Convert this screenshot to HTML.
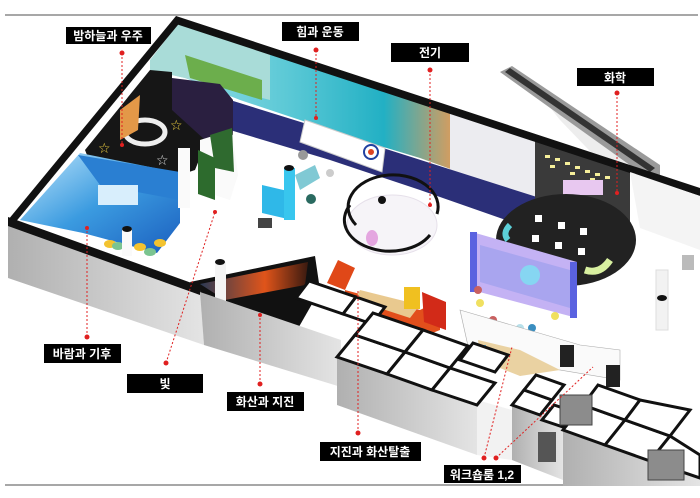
<!DOCTYPE html>
<html><head><meta charset="utf-8">
<style>
html,body{margin:0;padding:0;background:#fff;}
svg{display:block;}
.lb{font-family:"Liberation Sans","Noto Sans CJK KR",sans-serif;font-size:12px;font-weight:bold;fill:#fff;}
</style></head>
<body>
<svg width="700" height="498" viewBox="0 0 700 498" xmlns="http://www.w3.org/2000/svg">
<defs>
<linearGradient id="gw" x1="0" y1="0" x2="1" y2="0"><stop offset="0" stop-color="#b0b0b0"/><stop offset="1" stop-color="#e4e4e4"/></linearGradient>
<linearGradient id="mur" x1="0" y1="0" x2="1" y2="0"><stop offset="0" stop-color="#9fe0e8"/><stop offset="0.35" stop-color="#5cc9d6"/><stop offset="0.6" stop-color="#22b0c4"/><stop offset="0.8" stop-color="#f09a50"/><stop offset="1" stop-color="#e7e7ef"/></linearGradient>
<linearGradient id="blu" x1="0" y1="0" x2="1" y2="1"><stop offset="0" stop-color="#bfe6fb"/><stop offset="0.5" stop-color="#3b9be0"/><stop offset="1" stop-color="#1b5fbf"/></linearGradient>
<linearGradient id="vol" x1="0" y1="0" x2="1" y2="0"><stop offset="0" stop-color="#2a3a55"/><stop offset="0.6" stop-color="#e0541a"/><stop offset="1" stop-color="#3a1a10"/></linearGradient>
</defs>
<rect width="700" height="498" fill="#fff"/>
<line x1="5" y1="15" x2="698" y2="15" stroke="#8a8a8a" stroke-width="1.5"/>
<line x1="5" y1="485" x2="698" y2="485" stroke="#8a8a8a" stroke-width="1.5"/>

<!-- escalator -->
<polygon points="530,82 600,130 640,168 610,172 560,120" fill="#ededed"/>
<polygon points="500,72 512,66 660,165 660,178 645,176" fill="#9a9a9a"/>
<polygon points="505,72 510,68 655,168 650,172" fill="#333"/>

<!-- mural back wall -->
<polygon points="178,22 480,118 540,138 540,200 470,176 420,158 360,140 300,120 240,100 185,78 150,70" fill="url(#mur)"/>
<polygon points="150,60 178,24 270,53 270,100 185,78 150,70" fill="#a9dcd8"/>
<polygon points="185,55 262,80 262,100 190,78" fill="#6cae4c"/>
<polygon points="450,110 540,140 540,205 450,180" fill="#ececf0"/>
<polygon points="230,100 320,128 540,198 540,218 520,225 420,190 330,160 230,130" fill="#2b2f78"/>
<polygon points="305,120 385,148 382,172 300,142" fill="#fff" stroke="#ccc"/>
<circle cx="371" cy="152" r="7" fill="#fff" stroke="#2140a0" stroke-width="2"/><circle cx="371" cy="152" r="3" fill="#d42"/>
<polygon points="535,138 630,170 630,235 535,210" fill="#3a3a3a"/>
<g fill="#f5ef9a"><rect x="545" y="155" width="5" height="3"/><rect x="555" y="158" width="5" height="3"/><rect x="565" y="162" width="5" height="3"/><rect x="575" y="166" width="5" height="3"/><rect x="585" y="170" width="5" height="3"/><rect x="595" y="173" width="5" height="3"/><rect x="605" y="176" width="5" height="3"/><rect x="550" y="165" width="5" height="3"/><rect x="570" y="172" width="5" height="3"/><rect x="590" y="178" width="5" height="3"/></g>
<rect x="563" y="180" width="40" height="15" fill="#e8c8f0"/>
<ellipse cx="566" cy="240" rx="70" ry="46" fill="#222"/>
<g fill="#fff"><rect x="535" y="215" width="7" height="7"/><rect x="558" y="222" width="7" height="7"/><rect x="580" y="228" width="7" height="7"/><rect x="532" y="235" width="7" height="7"/><rect x="555" y="242" width="7" height="7"/><rect x="578" y="248" width="7" height="7"/></g>
<path d="M585 270 q15 5 25 -10" stroke="#d8f0a0" stroke-width="7" fill="none"/>
<path d="M510 225 q-8 8 -2 15" stroke="#5cd0d8" stroke-width="6" fill="none"/>
<polygon points="176,16 700,188 700,196 176,24" fill="#111"/>
<polygon points="630,172 700,196 700,250 640,228" fill="#f4f4f4"/>
<rect x="656" y="270" width="12" height="60" fill="#f2f2f2" stroke="#ddd"/><ellipse cx="662" cy="298" rx="5" ry="3" fill="#111"/>
<rect x="682" y="255" width="12" height="15" fill="#bbb"/>

<polygon points="176,16 182,20 14,224 8,220" fill="#111"/>

<polygon points="85,150 150,70 172,72 172,95 233,100 233,135 205,145 195,170 180,175 87,155" fill="#161616"/>
<polygon points="172,78 220,84 233,100 233,132 205,140 172,110" fill="#2a1f40"/>
<ellipse cx="145" cy="132" rx="20" ry="12" fill="none" stroke="#eee" stroke-width="5"/>
<polygon points="120,110 140,95 138,130 120,140" fill="#e39848"/>
<text x="98" y="153" font-size="14" fill="#f0d040" font-family="DejaVu Sans">☆</text>
<text x="170" y="130" font-size="14" fill="#f0d040" font-family="DejaVu Sans">☆</text>
<text x="156" y="165" font-size="14" fill="#ddd" font-family="DejaVu Sans">☆</text>

<polygon points="20,220 80,153 180,173 180,223 157,253 83,233" fill="url(#blu)"/>
<polygon points="78,155 180,172 180,200 100,185" fill="#2a7fd2"/>
<rect x="98" y="185" width="40" height="20" fill="#d8eefc"/>
<g fill="#f3c330"><ellipse cx="110" cy="244" rx="6" ry="4"/><ellipse cx="140" cy="247" rx="6" ry="4"/><ellipse cx="160" cy="243" rx="6" ry="4"/></g>
<g fill="#7bc490"><ellipse cx="118" cy="246" rx="6" ry="4"/><ellipse cx="150" cy="252" rx="6" ry="4"/></g>
<rect x="122" y="228" width="10" height="28" fill="#fafafa"/><ellipse cx="127" cy="229" rx="5" ry="3" fill="#111"/>

<polygon points="200,140 232,130 238,175 230,200 200,190" fill="#fafafa"/>
<polygon points="210,135 232,128 234,172 215,168" fill="#2f6a2f"/>
<polygon points="198,150 215,158 215,200 198,194" fill="#2d6b2d"/>
<rect x="178" y="148" width="12" height="60" fill="#fafafa"/>
<polygon points="262,185 292,192 292,220 262,213" fill="#2fb8e8"/>
<rect x="284" y="168" width="11" height="52" fill="#38c6ee"/><ellipse cx="289" cy="168" rx="5" ry="3" fill="#111"/>
<polygon points="295,175 315,165 320,178 300,190" fill="#80c9d4"/>
<circle cx="303" cy="155" r="5" fill="#999"/><circle cx="311" cy="199" r="5" fill="#2a6a60"/><circle cx="330" cy="173" r="4" fill="#ccc"/>
<rect x="258" y="218" width="14" height="10" fill="#444"/>

<ellipse cx="392" cy="225" rx="45" ry="30" fill="#f6f4f8" stroke="#e6e0ea"/>
<path d="M356 225 A45 32 0 1 1 437 214" fill="none" stroke="#111" stroke-width="3"/>
<path d="M350 205 A44 30 0 0 0 430 235" fill="none" stroke="#111" stroke-width="3"/>
<circle cx="382" cy="200" r="4" fill="#111"/>
<ellipse cx="372" cy="238" rx="6" ry="8" fill="#e4a6e0"/>

<polygon points="472,232 577,262 577,318 472,290" fill="#c4b2f4"/>
<polygon points="480,245 570,270 570,308 480,282" fill="#a9a5ef"/>
<circle cx="530" cy="275" r="10" fill="#86d6f2"/>
<rect x="470" y="232" width="7" height="60" fill="#5a62e0"/>
<rect x="570" y="262" width="7" height="56" fill="#5a62e0"/>
<circle cx="478" cy="290" r="4" fill="#c96060"/><circle cx="480" cy="303" r="4" fill="#f0e060"/>
<circle cx="493" cy="320" r="4" fill="#c96060"/><circle cx="520" cy="328" r="4" fill="#b8e0ea"/><circle cx="532" cy="328" r="4" fill="#3a8ec0"/><circle cx="555" cy="316" r="4" fill="#f0e060"/>

<polygon points="460,310 580,345 620,350 620,380 470,355" fill="#fafafa" stroke="#aaa" stroke-width="0.6"/>
<polygon points="478,340 520,350 560,370 520,376 480,360" fill="#ead2a2"/>
<rect x="476" y="345" width="10" height="6" fill="#4aa6d8"/>
<rect x="560" y="345" width="14" height="22" fill="#222"/><rect x="606" y="365" width="14" height="22" fill="#222"/>

<polygon points="190,282 315,256 320,290 296,332 210,302" fill="#111"/>
<polygon points="200,284 308,262 305,285 225,300" fill="url(#vol)"/>
<rect x="215" y="262" width="11" height="40" fill="#f4f4f4"/><ellipse cx="220" cy="262" rx="5" ry="3" fill="#111"/>

<polygon points="327,283 338,260 355,268 345,290" fill="#e04818"/>
<polygon points="345,290 420,310 440,300 440,330 420,338 345,300" fill="#e24f1c"/>
<polygon points="360,290 420,305 410,318 355,300" fill="#e9c98f"/>
<rect x="404" y="287" width="16" height="22" fill="#f0c020"/>
<polygon points="422,292 446,302 446,330 424,322" fill="#d22a18"/>

<polygon points="8,220 200,290 204,345 8,278" fill="url(#gw)"/>
<polygon points="8,217 200,286 200,295 8,226" fill="#111"/>
<polygon points="200,292 341,340 341,387 204,345" fill="url(#gw)"/>
<polygon points="337,357 477,405 477,455 337,405" fill="url(#gw)"/>
<polygon points="477,400 512,410 512,460 477,455" fill="#f2f2f2"/>
<polygon points="512,405 563,423 563,480 512,460" fill="url(#gw)"/>
<polygon points="563,430 700,478 700,486 563,486" fill="url(#gw)"/>
<rect x="538" y="432" width="18" height="30" fill="#555"/>

<g fill="#fff" stroke="#111" stroke-width="3" stroke-linejoin="miter">
<polygon points="296,298 343,314 356,297 309,281"/>
<polygon points="343,314 372,324 385,307 356,297"/>
<polygon points="337,357 387,374 405,352 355,335"/>
<polygon points="387,374 432,390 450,368 405,352"/>
<polygon points="432,390 477,405 495,383 450,368"/>
<polygon points="355,335 405,352 423,330 373,313"/>
<polygon points="405,352 450,368 468,346 423,330"/>
<polygon points="460,360 495,372 508,355 473,343"/>
<polygon points="512,405 540,415 552,400 524,390"/>
<polygon points="524,390 552,400 564,385 536,375"/>
<polygon points="542,420 563,427 575,412 554,405"/>
<polygon points="563,430 605,445 625,420 583,405"/>
<polygon points="605,445 650,461 670,436 625,420"/>
<polygon points="650,461 700,478 700,455 670,436"/>
<polygon points="583,405 625,420 640,400 598,385"/>
<polygon points="625,420 670,436 690,410 640,400"/>
</g>
<rect x="560" y="395" width="32" height="30" fill="#8c8c8c" stroke="#444"/>
<rect x="648" y="450" width="36" height="30" fill="#8c8c8c" stroke="#444"/>

<g stroke="#e02020" stroke-width="1" stroke-dasharray="2,2" fill="none">
<line x1="122" y1="53" x2="122" y2="145"/>
<line x1="316" y1="50" x2="316" y2="118"/>
<line x1="430" y1="70" x2="430" y2="205"/>
<line x1="617" y1="93" x2="617" y2="193"/>
<line x1="87" y1="337" x2="87" y2="228"/>
<line x1="166" y1="363" x2="215" y2="212"/>
<line x1="260" y1="384" x2="260" y2="315"/>
<line x1="358" y1="433" x2="358" y2="290"/>
<line x1="484" y1="458" x2="512" y2="347"/>
<line x1="496" y1="458" x2="593" y2="367"/>
</g>
<g fill="#e02020">
<circle cx="122" cy="53" r="2.5"/><circle cx="122" cy="145" r="2"/>
<circle cx="316" cy="50" r="2.5"/><circle cx="316" cy="118" r="2"/>
<circle cx="430" cy="70" r="2.5"/><circle cx="430" cy="205" r="2"/>
<circle cx="617" cy="93" r="2.5"/><circle cx="617" cy="193" r="2"/>
<circle cx="87" cy="337" r="2.5"/><circle cx="87" cy="228" r="2"/>
<circle cx="166" cy="363" r="2.5"/><circle cx="215" cy="212" r="2"/>
<circle cx="260" cy="384" r="2.5"/><circle cx="260" cy="315" r="2"/>
<circle cx="358" cy="433" r="2.5"/>
<circle cx="484" cy="458" r="2.5"/><circle cx="496" cy="458" r="2.5"/>
</g>

<g fill="#000">
<rect x="66" y="27" width="85" height="17"/>
<rect x="282" y="22" width="77" height="19"/>
<rect x="391" y="43" width="78" height="19"/>
<rect x="577" y="68" width="77" height="18"/>
<rect x="44" y="344" width="77" height="19"/>
<rect x="127" y="374" width="76" height="19"/>
<rect x="227" y="392" width="77" height="19"/>
<rect x="320" y="442" width="101" height="19"/>
<rect x="444" y="465" width="77" height="18"/>
</g>
<g class="lb" text-anchor="middle">
<text x="108" y="40">밤하늘과 우주</text>
<text x="320" y="36">힘과 운동</text>
<text x="430" y="57">전기</text>
<text x="615" y="82">화학</text>
<text x="82" y="358">바람과 기후</text>
<text x="165" y="388">빛</text>
<text x="265" y="406">화산과 지진</text>
<text x="370" y="456">지진과 화산탈출</text>
<text x="482" y="479">워크숍룸 1,2</text>
</g>
</svg>
</body></html>
